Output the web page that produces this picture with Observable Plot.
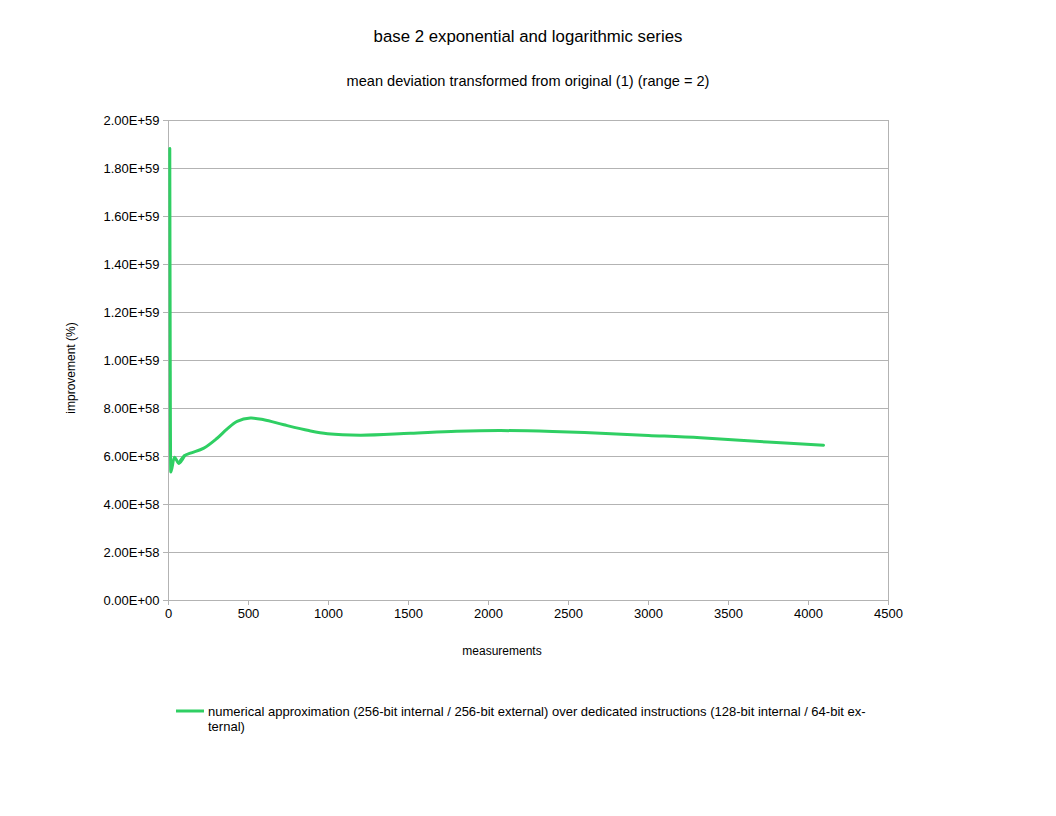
<!DOCTYPE html>
<html>
<head>
<meta charset="utf-8">
<script src="https://cdn.jsdelivr.net/npm/d3@7"></script>
<script src="https://cdn.jsdelivr.net/npm/@observablehq/plot@0.6"></script>
<style>
  html, body { margin: 0; padding: 0; background: #fff; }
  svg text { font-family: "Liberation Sans", Arial, sans-serif; }
</style>
</head>
<body>
<div id="chart"></div>
<script>
const title = "base 2 exponential and logarithmic series";
const subtitle = "mean deviation transformed from original (1) (range = 2)";
const xLabel = "measurements";
const yLabel = "improvement (%)";
const seriesName = ["numerical approximation (256-bit internal / 256-bit external) over dedicated instructions (128-bit internal / 64-bit ex-", "ternal)"];

const measurements = [8, 14, 37, 64, 100, 137, 221, 304, 367, 429, 512, 596, 721, 877, 994, 1200, 1512, 1800, 2075, 2400, 2700, 3000, 3325, 3744, 4094];
const improvementE58 = [18.83, 5.35, 5.97, 5.72, 6.03, 6.14, 6.35, 6.76, 7.15, 7.46, 7.60, 7.53, 7.32, 7.08, 6.95, 6.89, 6.97, 7.05, 7.08, 7.04, 6.97, 6.88, 6.78, 6.60, 6.47];

const xTicks = [0, 500, 1000, 1500, 2000, 2500, 3000, 3500, 4000, 4500];
const yTicks = [0, 2e58, 4e58, 6e58, 8e58, 1e59, 1.2e59, 1.4e59, 1.6e59, 1.8e59, 2e59];

const data = measurements.map((m, i) => ({x: m, y: improvementE58[i] * 1e58}));
const head = data.slice(0, 5);   // steep start: monotone to avoid overshoot
const tail = data.slice(3);      // smooth remainder

function sci(d) {
  if (d === 0) return "0.00E+00";
  const e = Math.floor(Math.log10(Math.abs(d)) + 1e-9);
  const m = d / Math.pow(10, e);
  return m.toFixed(2) + "E+" + String(e).padStart(2, "0");
}

const W = 1056, H = 816;
const M = {left: 168, right: 168, top: 120, bottom: 216};
const grid = "#b3b3b3";
const green = "#2fcf63";

const plot = Plot.plot({
  width: W,
  height: H,
  marginLeft: M.left,
  marginRight: M.right,
  marginTop: M.top,
  marginBottom: M.bottom,
  style: {fontFamily: "Liberation Sans, Arial, sans-serif", fontSize: "13px", color: "#000", background: "#fff"},
  x: {domain: [0, 4500], ticks: xTicks, tickFormat: d => String(d), label: null},
  y: {domain: [0, 2e59], ticks: yTicks, tickFormat: sci, label: null},
  marks: [
    Plot.gridY(yTicks, {stroke: grid, strokeOpacity: 1, strokeWidth: 1}),
    Plot.frame({stroke: grid, strokeWidth: 1}),
    Plot.axisX({ticks: xTicks, tickFormat: d => String(d), stroke: grid, tickSize: 5, tickPadding: 3, fontSize: 13, fill: "#000", label: null}),
    Plot.axisY({ticks: yTicks, tickFormat: sci, stroke: grid, tickSize: 5, tickPadding: 4, fontSize: 13, fill: "#000", label: null}),
    Plot.line(head, {x: "x", y: "y", stroke: green, strokeWidth: 3, curve: "monotone-x"}),
    Plot.line(tail, {x: "x", y: "y", stroke: green, strokeWidth: 3, curve: "catmull-rom"})
  ]
});

document.getElementById("chart").appendChild(plot);

const svg = d3.select(plot);
const font = "Liberation Sans, Arial, sans-serif";
svg.append("text").attr("x", 528).attr("y", 42).attr("text-anchor", "middle")
  .attr("font-size", 16.8).attr("font-family", font).attr("fill", "#000").text(title);
svg.append("text").attr("x", 528).attr("y", 86).attr("text-anchor", "middle")
  .attr("font-size", 14.6).attr("font-family", font).attr("fill", "#000").text(subtitle);
svg.append("text").attr("x", 502).attr("y", 655).attr("text-anchor", "middle")
  .attr("font-size", 12).attr("font-family", font).attr("fill", "#000").text(xLabel);
svg.append("text").attr("transform", "translate(75,368) rotate(-90)").attr("text-anchor", "middle")
  .attr("font-size", 12).attr("font-family", font).attr("fill", "#000").text(yLabel);

const lg = svg.append("g");
lg.append("line").attr("x1", 176).attr("x2", 204).attr("y1", 711).attr("y2", 711)
  .attr("stroke", green).attr("stroke-width", 3);
seriesName.forEach((s, i) => {
  lg.append("text").attr("x", 208).attr("y", 716 + i * 15).attr("text-anchor", "start")
    .attr("font-size", 13).attr("font-family", font).attr("fill", "#000").text(s);
});
</script>
</body>
</html>
